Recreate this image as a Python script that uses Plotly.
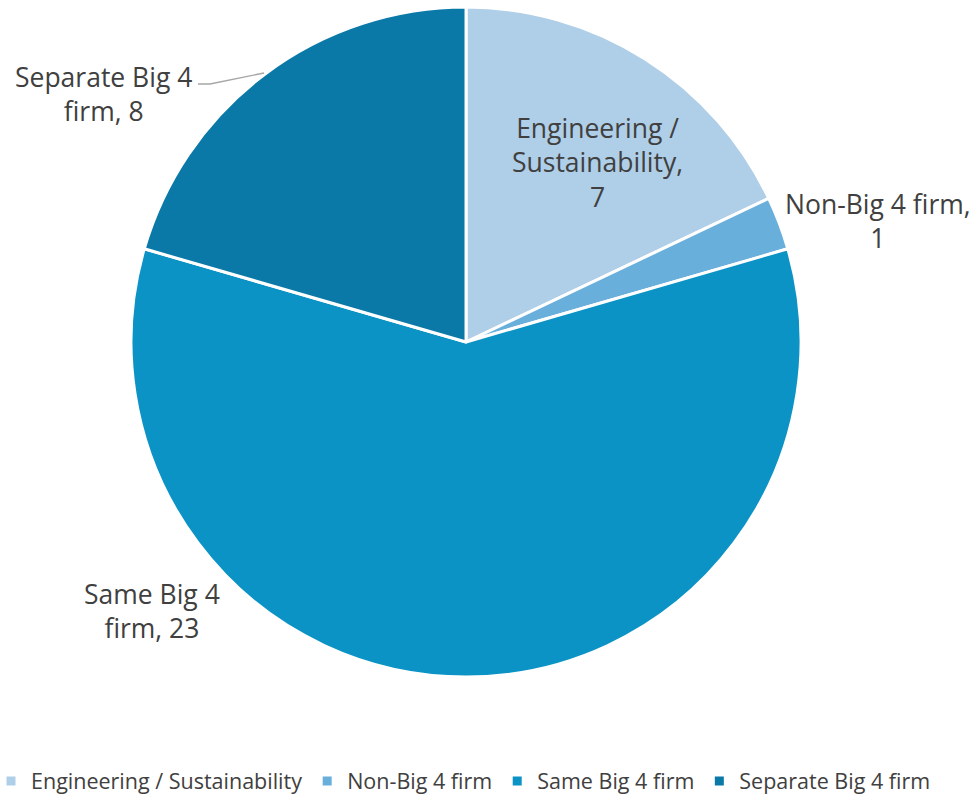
import plotly.graph_objects as go

# Data
categories = ["Engineering / Sustainability", "Non-Big 4 firm", "Same Big 4 firm", "Separate Big 4 firm"]
counts = [7, 1, 23, 8]
label_texts = ["Engineering /<br>Sustainability,<br>{v}", "Non-Big 4 firm,<br>{v}", "Same Big 4<br>firm, {v}", "Separate Big 4<br>firm, {v}"]
colors = ["#AFCEE7", "#69AFDC", "#0C93C6", "#0A79A7"]

W, H = 977, 795
BOTTOM = 30                     # strip below the plot area that holds the legend
PH = H - BOTTOM                 # plot-area height in px
TEXT_COLOR = "#404040"
FONT = "Open Sans"


def px_x(px):
    return px / W


def px_y(py):
    return (PH - py) / PH


fig = go.Figure(
    go.Pie(
        labels=categories,
        values=counts,
        sort=False,
        direction="clockwise",
        rotation=0,
        marker=dict(colors=colors, line=dict(color="white", width=3)),
        textinfo="none",
        hoverinfo="label+value",
        domain=dict(x=[0.07, 0.884], y=[px_y(677), px_y(7)]),
    )
)

# Data label placement (pixel centres of each text block)
label_pos = [(597, 162), (878, 221), (152, 611), (103, 94)]
for tmpl, val, (px, py) in zip(label_texts, counts, label_pos):
    fig.add_annotation(
        x=px_x(px), y=px_y(py), xref="paper", yref="paper",
        text=tmpl.format(v=val), showarrow=False, xanchor="center", yanchor="middle",
        align="center", font=dict(family=FONT, size=26.5, color=TEXT_COLOR),
    )

# Leader line for the "Separate Big 4 firm" label
fig.add_shape(
    type="path", xref="paper", yref="paper",
    path=f"M {px_x(198)},{px_y(84)} L {px_x(210)},{px_y(84)} L {px_x(264)},{px_y(73)}",
    line=dict(color="#A6A6A6", width=1.3),
)

fig.update_layout(
    width=W, height=H,
    margin=dict(l=0, r=0, t=0, b=BOTTOM, autoexpand=False),
    paper_bgcolor="white",
    plot_bgcolor="white",
    showlegend=True,
    legend=dict(
        orientation="h", x=-9 / W, xanchor="left", y=px_y(781), yanchor="middle",
        font=dict(family=FONT, size=21.5, color=TEXT_COLOR),
        itemwidth=30, traceorder="normal",
    ),
)

fig.write_html("out.html")
